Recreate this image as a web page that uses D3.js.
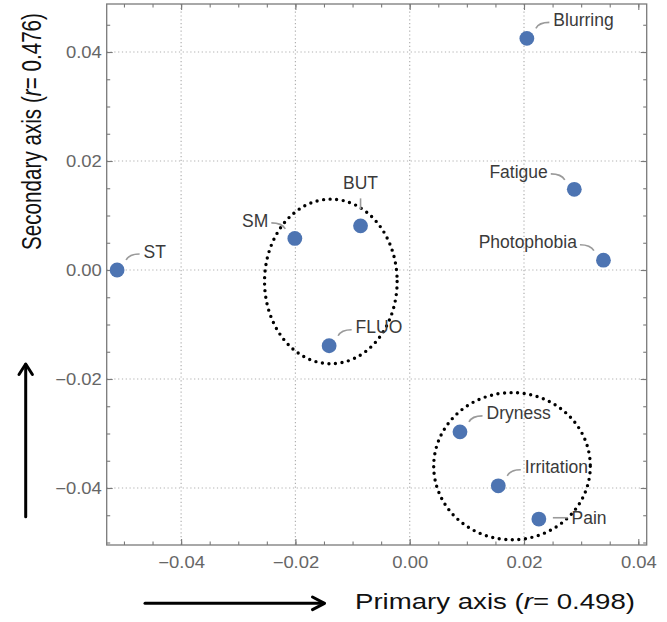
<!DOCTYPE html>
<html>
<head>
<meta charset="utf-8">
<script src="https://cdn.jsdelivr.net/npm/d3@7"></script>
<style>
  html, body { margin: 0; padding: 0; background: #ffffff; }
  svg { display: block; font-family: "Liberation Sans", Arial, sans-serif; }
</style>
</head>
<body>
<svg id="chart" width="667" height="622"></svg>
<script>
// ---------------- data ----------------
const names  = ["ST", "SM", "BUT", "FLUO", "Blurring", "Fatigue", "Photophobia", "Dryness", "Irritation", "Pain"];
const primary   = [-0.0512, -0.0201, -0.0086, -0.0141, 0.0205, 0.0288, 0.0339, 0.0088, 0.0155, 0.0226];
const secondary = [ 0.0000,  0.0058,  0.0081, -0.0139, 0.0425, 0.0148, 0.0018, -0.0297, -0.0396, -0.0457];
const xTicks = [-0.04, -0.02, 0.00, 0.02, 0.04];
const yTicks = [-0.04, -0.02, 0.00, 0.02, 0.04];
// cluster ellipses (centre x, centre y, radius x, radius y) in data units
const clusterCx = [-0.0138, 0.0179];
const clusterCy = [-0.0021, -0.0360];
const clusterRx = [0.0116, 0.0137];
const clusterRy = [0.0151, 0.0135];
const xTitle = ["Primary axis (", "r", "= 0.498)"];
const yTitle = ["Secondary axis (", "r", "= 0.476)"];

// ---------------- layout ----------------
const svg = d3.select("#chart");
const plot = { left: 106.7, top: 4, right: 646.7, bottom: 545 };
const x = d3.scaleLinear().domain([-0.05302, 0.04147]).range([plot.left, plot.right]);
const y = d3.scaleLinear().domain([-0.05046, 0.04881]).range([plot.bottom, plot.top]);
const fmt = v => (v === 0 ? "0.00" : d3.format(".2f")(v).replace("-", "\u2212"));

const minorX = d3.range(-50, 41, 5).map(v => v / 1000);
const minorY = d3.range(-50, 46, 5).map(v => v / 1000);

// label placement (layout only)
const placement = { ST: "ur", SM: "ul", BUT: "u", FLUO: "ur", Blurring: "ur", Fatigue: "ul",
                    Photophobia: "ul", Dryness: "ur", Irritation: "ur", Pain: "r" };
const place = {
  ur: { anchor: "start",  dx: 26.5, dy: -12.5, leader: "M9,-10 Q12,-16 22.5,-16" },
  ul: { anchor: "end",    dx: -26.5, dy: -11.8, leader: "M-9.5,-9.5 Q-13,-15.5 -23.5,-15.5" },
  u:  { anchor: "middle", dx: 0, dy: -36.4, leader: "M0,-16.5 L0,-27.5" },
  r:  { anchor: "start",  dx: 32.7, dy: 5.3, leader: "M14,-1.3 L29,-1.3" }
};

// ---------------- grid ----------------
const grid = svg.append("g");
grid.selectAll("line.gx").data(xTicks.filter(v => x(v) < plot.right - 12)).join("line")
  .attr("x1", d => x(d)).attr("x2", d => x(d))
  .attr("y1", plot.top).attr("y2", plot.bottom)
  .attr("stroke", "#b0b0b0").attr("stroke-width", 1.2).attr("stroke-dasharray", "1.2 2.6");
grid.selectAll("line.gy").data(yTicks).join("line")
  .attr("y1", d => y(d)).attr("y2", d => y(d))
  .attr("x1", plot.left).attr("x2", plot.right)
  .attr("stroke", "#b0b0b0").attr("stroke-width", 1.2).attr("stroke-dasharray", "1.2 2.6");

// ---------------- axes (ticks inward on all four sides) ----------------
function styleAxis(g) {
  g.select(".domain").remove();
  g.selectAll(".tick line").attr("stroke", "#7a7a7a").attr("stroke-width", 1.1);
}
// minor ticks
svg.append("g").attr("transform", `translate(0,${plot.bottom})`)
  .call(d3.axisBottom(x).tickValues(minorX).tickSize(-3.5).tickFormat("")).call(styleAxis);
svg.append("g").attr("transform", `translate(0,${plot.top})`)
  .call(d3.axisTop(x).tickValues(minorX).tickSize(-3.5).tickFormat("")).call(styleAxis);
svg.append("g").attr("transform", `translate(${plot.left},0)`)
  .call(d3.axisLeft(y).tickValues(minorY).tickSize(-3.5).tickFormat("")).call(styleAxis);
svg.append("g").attr("transform", `translate(${plot.right},0)`)
  .call(d3.axisRight(y).tickValues(minorY).tickSize(-3.5).tickFormat("")).call(styleAxis);
// major ticks, labelled on bottom & left
const xAxis = svg.append("g").attr("transform", `translate(0,${plot.bottom})`)
  .call(d3.axisBottom(x).tickValues(xTicks).tickSize(-6).tickPadding(11.5).tickFormat(fmt)).call(styleAxis);
const yAxis = svg.append("g").attr("transform", `translate(${plot.left},0)`)
  .call(d3.axisLeft(y).tickValues(yTicks).tickSize(-6).tickPadding(5).tickFormat(fmt)).call(styleAxis);
svg.append("g").attr("transform", `translate(0,${plot.top})`)
  .call(d3.axisTop(x).tickValues(xTicks).tickSize(-6).tickFormat("")).call(styleAxis);
svg.append("g").attr("transform", `translate(${plot.right},0)`)
  .call(d3.axisRight(y).tickValues(yTicks).tickSize(-6).tickFormat("")).call(styleAxis);

[xAxis, yAxis].forEach(a => {
  a.selectAll(".tick text")
    .attr("fill", "#666666")
    .style("font-family", "'Liberation Sans', Arial, sans-serif")
    .style("font-size", "16px")
    .each(function () {
      const w = this.getComputedTextLength();
      d3.select(this).attr("textLength", w * 1.15).attr("lengthAdjust", "spacingAndGlyphs");
    });
});

// frame
svg.append("rect")
  .attr("x", plot.left).attr("y", plot.top)
  .attr("width", plot.right - plot.left).attr("height", plot.bottom - plot.top)
  .attr("fill", "none").attr("stroke", "#7a7a7a").attr("stroke-width", 1.3);

// ---------------- cluster ellipses ----------------
svg.append("g").selectAll("ellipse").data(clusterCx.map((c, i) => i)).join("ellipse")
  .attr("cx", i => x(clusterCx[i]))
  .attr("cy", i => y(clusterCy[i]))
  .attr("rx", i => x(clusterCx[i] + clusterRx[i]) - x(clusterCx[i]))
  .attr("ry", i => y(clusterCy[i]) - y(clusterCy[i] + clusterRy[i]))
  .attr("fill", "none").attr("stroke", "#000")
  .attr("stroke-width", 3.4).attr("stroke-linecap", "round")
  .attr("stroke-dasharray", "0 6.6");

// ---------------- points, leaders, labels ----------------
const pts = names.map((n, i) => ({ name: n, px: primary[i], py: secondary[i] }));
const pg = svg.append("g").selectAll("g").data(pts).join("g")
  .attr("transform", d => `translate(${x(d.px)},${y(d.py)})`);
pg.append("path")
  .attr("d", d => place[placement[d.name]].leader)
  .attr("fill", "none").attr("stroke", "#9a9a9a").attr("stroke-width", 1.6);
pg.append("circle").attr("r", 7.4).attr("fill", "#4d74b2");
pg.append("text")
  .attr("x", d => place[placement[d.name]].dx)
  .attr("y", d => place[placement[d.name]].dy)
  .attr("text-anchor", d => place[placement[d.name]].anchor)
  .attr("fill", "#3a3a3a")
  .style("font-size", "17.5px")
  .text(d => d.name);

// ---------------- axis titles ----------------
function title(sel, parts) {
  sel.append("tspan").text(parts[0]);
  sel.append("tspan").style("font-style", "italic").text(parts[1]);
  sel.append("tspan").text(parts[2]);
}
const xt = svg.append("text")
  .attr("x", 355).attr("y", 609.3)
  .attr("fill", "#111").style("font-size", "21.4px")
  .attr("textLength", 280).attr("lengthAdjust", "spacingAndGlyphs");
title(xt, xTitle);

const yt = svg.append("text")
  .attr("transform", "translate(40.5,131.5) scale(1.3,1) rotate(-90)")
  .attr("text-anchor", "middle")
  .attr("fill", "#111").style("font-size", "21px")
  .attr("textLength", 237).attr("lengthAdjust", "spacingAndGlyphs");
title(yt, yTitle);

// ---------------- direction arrows ----------------
const arrows = svg.append("g").attr("stroke", "#000").attr("stroke-width", 3)
  .attr("fill", "none").attr("stroke-linecap", "round").attr("stroke-linejoin", "round");
arrows.append("path").attr("d", "M25.7,516.7 L25.7,364.5");
arrows.append("path").attr("d", "M19,374.5 L25.7,364 L32.4,374.5");
arrows.append("path").attr("d", "M145,603.3 L324,603.3");
arrows.append("path").attr("d", "M312.5,597 L324.5,603.3 L312.5,609.6");
</script>
</body>
</html>
